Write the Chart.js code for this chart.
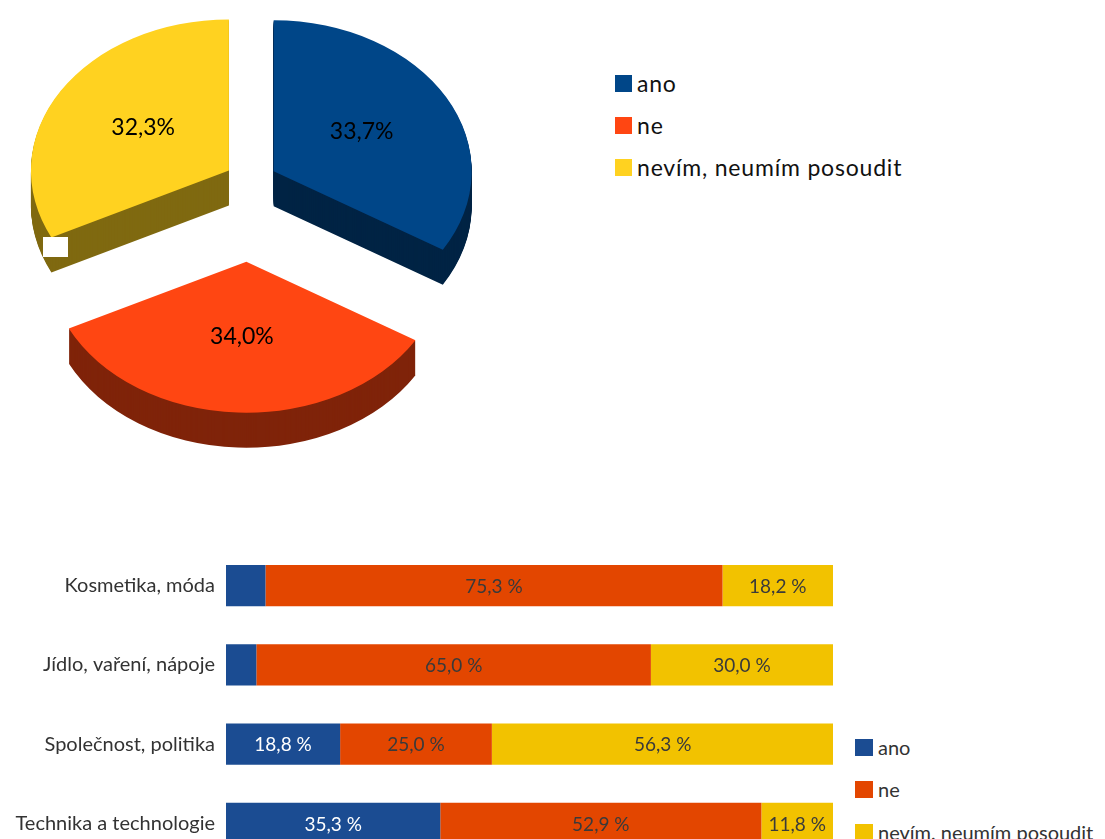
<!DOCTYPE html>
<html>
<head>
<meta charset="utf-8">
<script src="https://cdn.jsdelivr.net/npm/chart.js@4.4.0/dist/chart.umd.min.js"></script>
<style>
    html, body { margin: 0; padding: 0; background: #fff; width: 1105px; height: 839px; overflow: hidden; font-family: Lato, sans-serif; }
    #pieBox { position: absolute; left: 0; top: 0; width: 520px; height: 470px; }
    #barBox { position: absolute; left: 0; top: 546px; width: 833px; height: 317px; }
    .legend { position: absolute; left: 0; top: 0; }
    .legend .item { position: absolute; white-space: nowrap; display: flex; align-items: center; }
    .legend .sw { display: inline-block; margin-right: 5px; }
    #pieLegend .item { font-size: 23px; letter-spacing: 0.8px; color: #111; }
    #pieLegend .sw { width: 17px; height: 17px; }
    #barLegend .item { font-size: 20px; color: #333; }
    #barLegend .sw { width: 18px; height: 17px; }
    #blank { position: absolute; left: 43px; top: 237px; width: 25px; height: 20px; background: #fff; }
</style>
</head>
<body>
<div id="pieBox"><canvas id="pieChart"></canvas></div>
<div id="blank"></div>
<div id="pieLegend" class="legend"></div>
<div id="barBox"><canvas id="barChart"></canvas></div>
<div id="barLegend" class="legend"></div>
<script>
// Pie data
const pieLabels = ['ano', 'ne', 'nevím, neumím posoudit'];
const pieValues = [33.7, 34.0, 32.3];
const pieColors = ['#004688', '#FF4612', '#FFD220'];

// Bar data
const barCategories = ['Kosmetika, móda', 'Jídlo, vaření, nápoje', 'Společnost, politika', 'Technika a technologie'];
const barSeries = ['ano', 'ne', 'nevím, neumím posoudit'];
const barAno = [6.5, 5.0, 18.8, 35.3];
const barNe = [75.3, 65.0, 25.0, 52.9];
const barNevim = [18.2, 30.0, 56.3, 11.8];
const barColors = ['#1B4C92', '#E34600', '#F2C200'];

// 3D look of the pie
const TILT = 151 / 198;     // vertical squash
const DEPTH = 35;           // side height in px
const EXPLODE = [26, 106, 26];

function fmt(v, withSpace) {
    return v.toFixed(1).replace('.', ',') + (withSpace ? ' %' : '%');
}

function placeSlice(ctx, a, i, dy) {
    const mid = (a.startAngle + a.endAngle) / 2;
    ctx.translate(0, dy);
    ctx.translate(a.x, a.y);
    ctx.scale(1, TILT);
    ctx.translate(-a.x, -a.y);
    ctx.translate(Math.cos(mid) * EXPLODE[i], Math.sin(mid) * EXPLODE[i]);
}

const pie3d = {
    id: 'pie3d',
    beforeDatasetsDraw(chart) {
        const ctx = chart.ctx;
        const arcs = chart.getDatasetMeta(0).data;
        // sides: darker copies stacked downwards
        for (let dy = DEPTH; dy > 0; dy--) {
            arcs.forEach((a, i) => {
                ctx.save();
                ctx.filter = 'brightness(50%)';
                placeSlice(ctx, a, i, dy);
                a.draw(ctx);
                ctx.restore();
            });
        }
        // top faces
        arcs.forEach((a, i) => {
            ctx.save();
            placeSlice(ctx, a, i, 0);
            a.draw(ctx);
            ctx.restore();
        });
        return false;
    },
    afterDraw(chart) {
        const ctx = chart.ctx;
        const arcs = chart.getDatasetMeta(0).data;
        ctx.save();
        ctx.font = '23px Lato';
        ctx.fillStyle = '#000';
        ctx.textAlign = 'center';
        ctx.textBaseline = 'middle';
        arcs.forEach((a, i) => {
            const mid = (a.startAngle + a.endAngle) / 2;
            const d = EXPLODE[i] + a.outerRadius * 0.51;
            const x = a.x + Math.cos(mid) * d;
            const y = a.y + Math.sin(mid) * d * TILT;
            ctx.fillText(fmt(pieValues[i], false), x, y - 2);
        });
        ctx.restore();
    }
};

new Chart(document.getElementById('pieChart'), {
    type: 'pie',
    data: {
        labels: pieLabels,
        datasets: [{
            data: pieValues,
            backgroundColor: pieColors,
            borderWidth: 0
        }]
    },
    options: {
        responsive: true,
        maintainAspectRatio: false,
        animation: false,
        radius: 198,
        layout: { padding: { left: 0, right: 18, top: 0, bottom: 108 } },
        plugins: {
            legend: { display: false },
            tooltip: { enabled: false }
        }
    },
    plugins: [pie3d]
});

// values inside the bars
const barValueLabels = {
    id: 'barValueLabels',
    afterDatasetsDraw(chart) {
        const ctx = chart.ctx;
        ctx.save();
        ctx.font = '19px Lato';
        ctx.textAlign = 'center';
        ctx.textBaseline = 'middle';
        chart.data.datasets.forEach((ds, di) => {
            chart.getDatasetMeta(di).data.forEach((bar, j) => {
                const v = ds.data[j];
                if (v < 10) return; // small segments have no label
                ctx.fillStyle = di === 0 ? '#ffffff' : '#3a3a3a';
                ctx.fillText(fmt(v, true), (bar.x + bar.base) / 2, bar.y + 1);
            });
        });
        ctx.restore();
    }
};

const barData = [barAno, barNe, barNevim];

new Chart(document.getElementById('barChart'), {
    type: 'bar',
    data: {
        labels: barCategories,
        datasets: barSeries.map((name, i) => ({
            label: name,
            data: barData[i],
            backgroundColor: barColors[i],
            borderWidth: 0,
            categoryPercentage: 1,
            barPercentage: 0.52
        }))
    },
    options: {
        indexAxis: 'y',
        responsive: true,
        maintainAspectRatio: false,
        animation: false,
        layout: { padding: 0 },
        scales: {
            x: { stacked: true, min: 0, max: 100, display: false },
            y: {
                stacked: true,
                grid: { display: false, drawTicks: false },
                border: { display: false },
                ticks: {
                    padding: 11,
                    color: '#333',
                    font: { family: 'Lato', size: 20 }
                },
                afterFit(scale) {
                    scale.width = 226;
                    scale.paddingTop = 0;
                    scale.paddingBottom = 0;
                }
            }
        },
        plugins: {
            legend: { display: false },
            tooltip: { enabled: false }
        }
    },
    plugins: [barValueLabels]
});

// HTML legends
function buildLegend(el, names, colors, left, tops) {
    names.forEach((name, i) => {
        const item = document.createElement('div');
        item.className = 'item';
        item.style.left = left + 'px';
        item.style.top = tops[i] + 'px';
        const sw = document.createElement('span');
        sw.className = 'sw';
        sw.style.background = colors[i];
        const txt = document.createElement('span');
        txt.textContent = name;
        item.appendChild(sw);
        item.appendChild(txt);
        el.appendChild(item);
    });
}
buildLegend(document.getElementById('pieLegend'), pieLabels, pieColors, 615, [69, 111, 153]);
buildLegend(document.getElementById('barLegend'), barSeries, barColors, 855, [735, 777, 820]);
</script>
</body>
</html>
